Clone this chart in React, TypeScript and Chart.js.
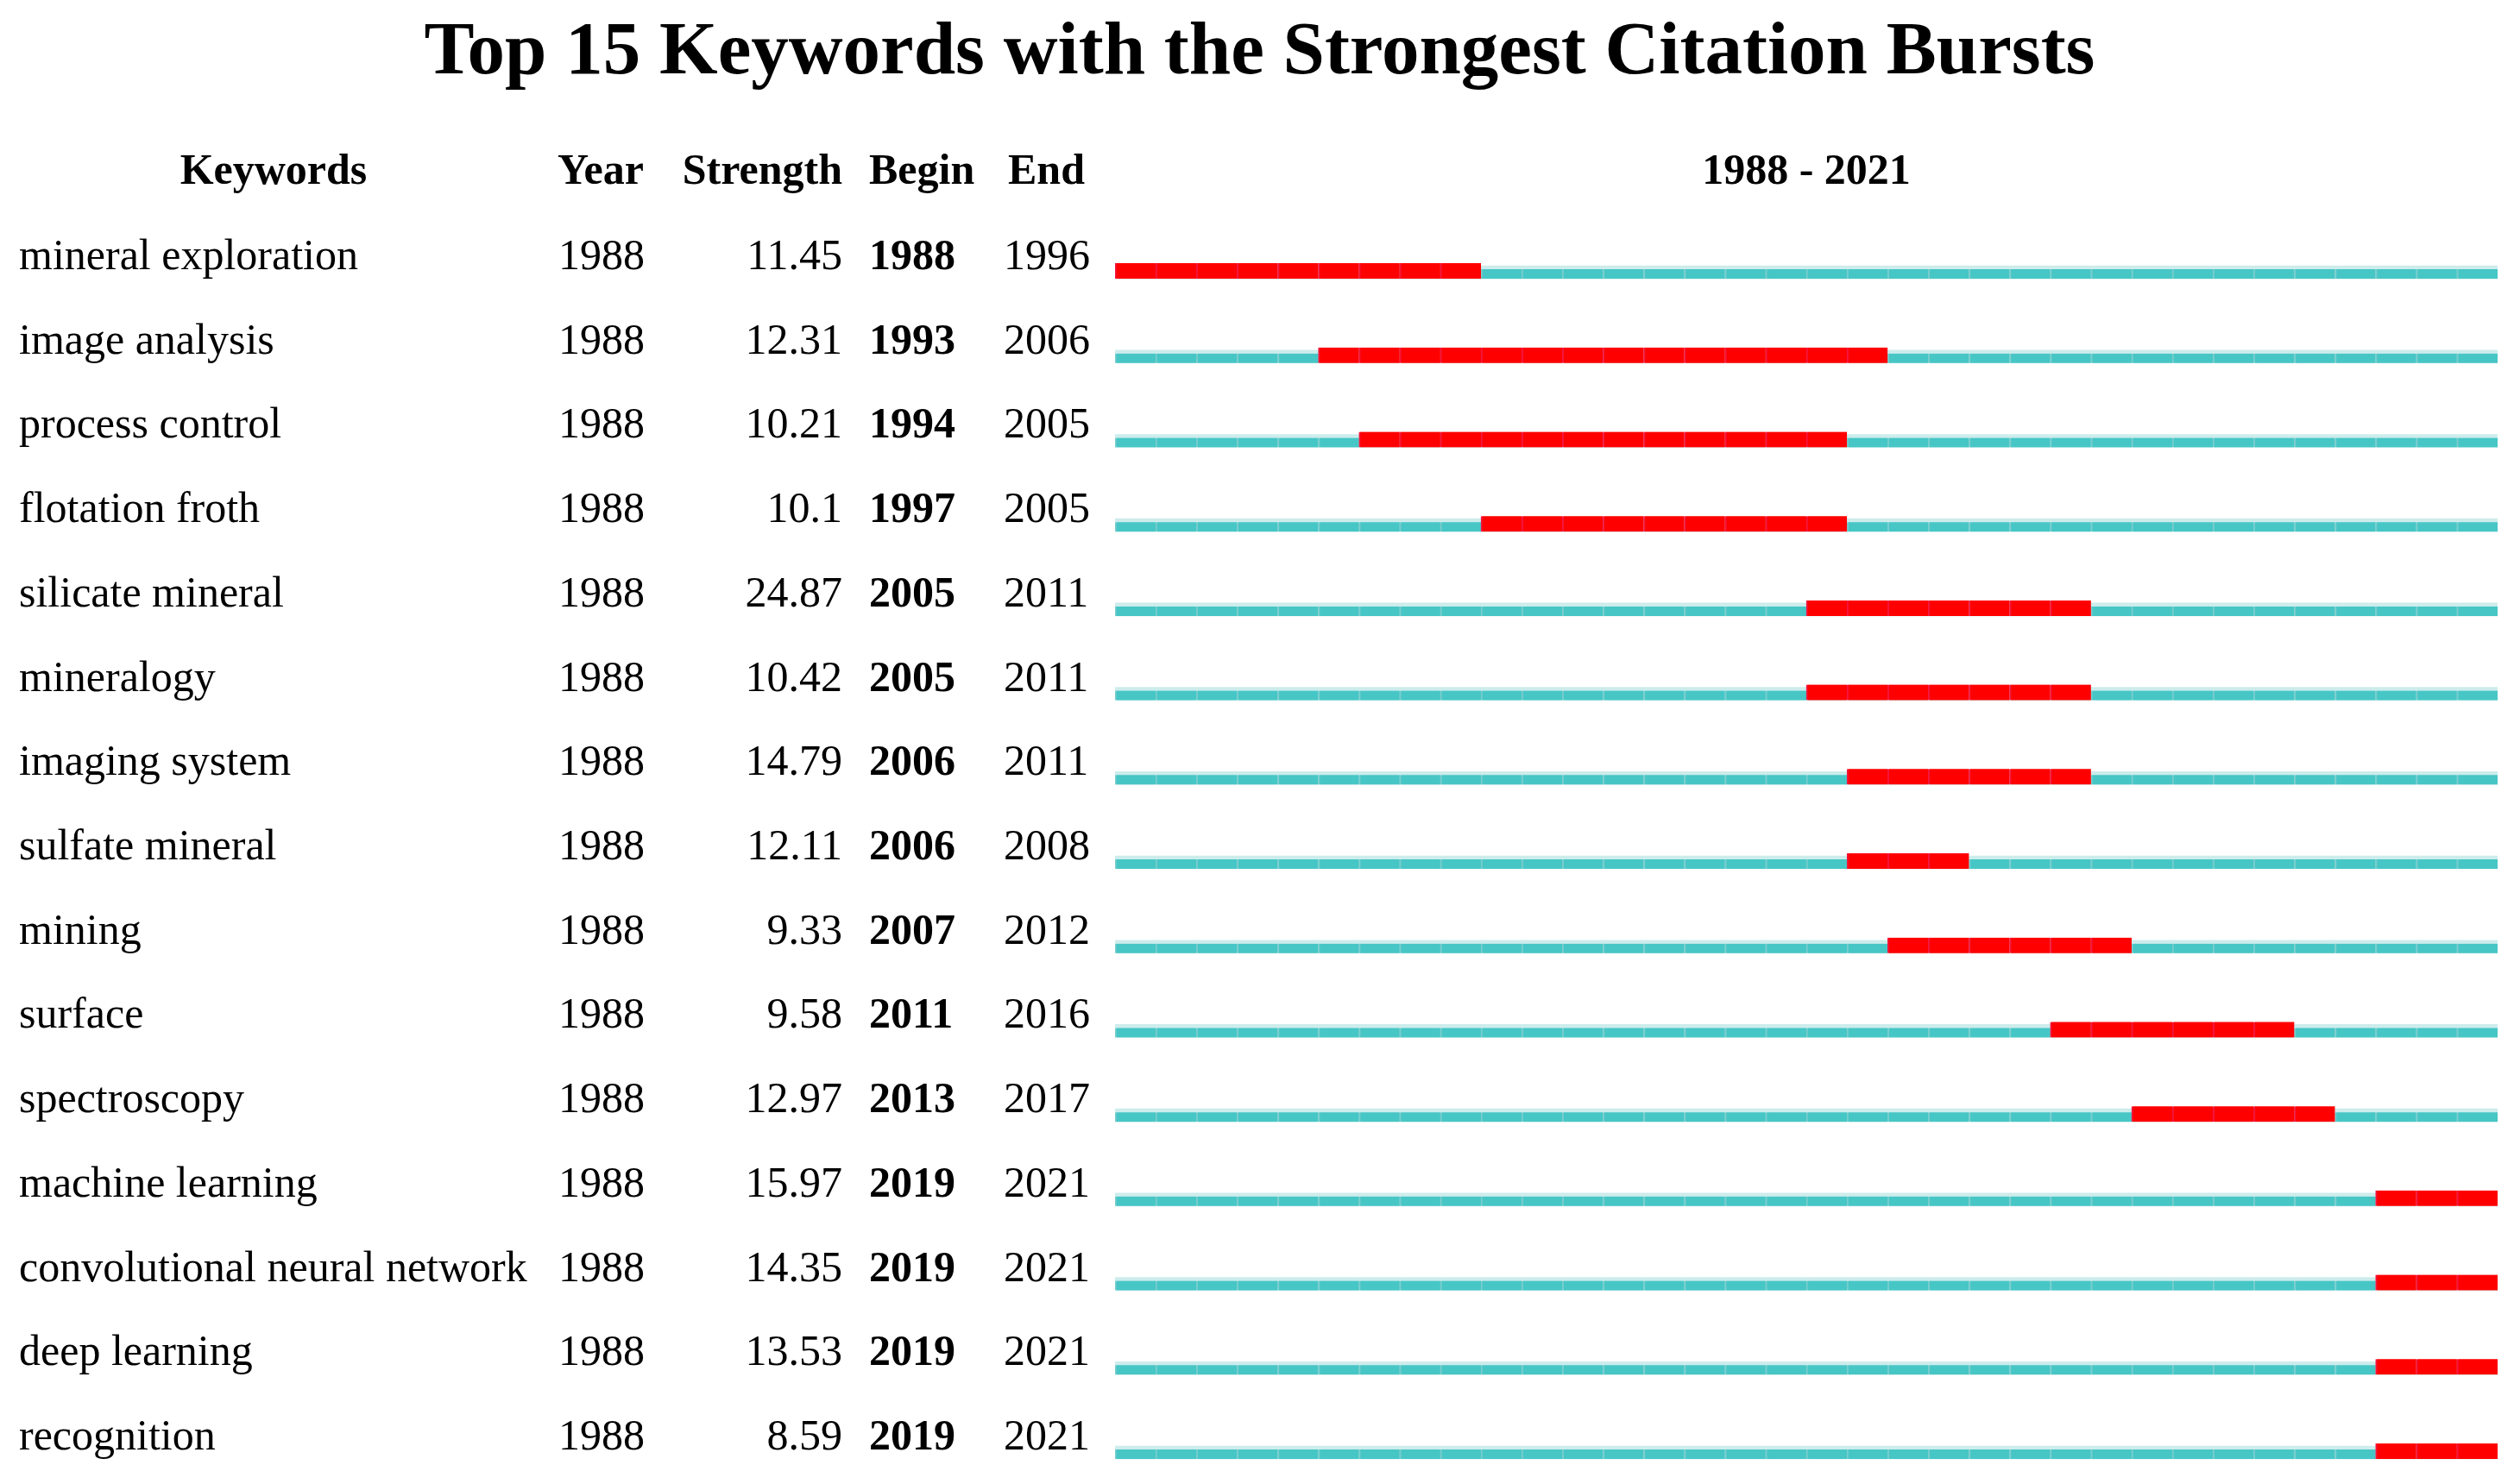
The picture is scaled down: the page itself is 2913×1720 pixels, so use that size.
import React, { useEffect, useRef } from "react";
import { Chart, registerables } from "chart.js";

Chart.register(...registerables);

// ---------- data ----------
const chartTitle = "Top 15 Keywords with the Strongest Citation Bursts";
const columnHeaders = ["Keywords", "Year", "Strength", "Begin", "End"];
const keywords = [
  "mineral exploration",
  "image analysis",
  "process control",
  "flotation froth",
  "silicate mineral",
  "mineralogy",
  "imaging system",
  "sulfate mineral",
  "mining",
  "surface",
  "spectroscopy",
  "machine learning",
  "convolutional neural network",
  "deep learning",
  "recognition",
];
const firstYears = [1988, 1988, 1988, 1988, 1988, 1988, 1988, 1988, 1988, 1988, 1988, 1988, 1988, 1988, 1988];
const strengths = [11.45, 12.31, 10.21, 10.1, 24.87, 10.42, 14.79, 12.11, 9.33, 9.58, 12.97, 15.97, 14.35, 13.53, 8.59];
const burstBegins = [1988, 1993, 1994, 1997, 2005, 2005, 2006, 2006, 2007, 2011, 2013, 2019, 2019, 2019, 2019];
const burstEnds = [1996, 2006, 2005, 2005, 2011, 2011, 2011, 2008, 2012, 2016, 2017, 2021, 2021, 2021, 2021];
const rangeStart = 1988;
const rangeEnd = 2021;

// ---------- style ----------
const FONT = '"Liberation Serif", "Times New Roman", serif';
const COLORS = {
  burst: "#ff0000",
  burstSeam: "#f2163e",
  base: "#47c6c6",
  baseSeam: "#78cdcd",
  baseEdge: "#cdecec",
  text: "#000000",
};
const ROW_PX = 97.71;
const Y_MIN = -0.5;
const Y_MAX = 14.3;
const COLS = { keyword: 22, keywordHeader: 317, year: 647, strengthRight: 976, begin: 1007, end: 1163, endHeader: 1168 };

const tablePlugin = {
  id: "burstTable",
  afterDatasetsDraw(chart: any) {
    const { ctx, chartArea } = chart;
    const yScale = chart.scales.yR;
    ctx.save();
    ctx.fillStyle = COLORS.text;
    ctx.textBaseline = "alphabetic";
    const headerY = yScale.getPixelForValue(-1) - 3;
    ctx.font = `bold 50px ${FONT}`;
    ctx.textAlign = "center";
    ctx.fillText(columnHeaders[0], COLS.keywordHeader, headerY);
    ctx.textAlign = "left";
    ctx.fillText(columnHeaders[1], COLS.year - 1, headerY);
    ctx.textAlign = "right";
    ctx.fillText(columnHeaders[2], COLS.strengthRight, headerY);
    ctx.textAlign = "left";
    ctx.fillText(columnHeaders[3], COLS.begin, headerY);
    ctx.fillText(columnHeaders[4], COLS.endHeader, headerY);
    ctx.textAlign = "center";
    ctx.fillText(`${rangeStart} - ${rangeEnd}`, (chartArea.left + chartArea.right) / 2, headerY);

    keywords.forEach((kw, i) => {
      const y = yScale.getPixelForValue(i) - 2;
      ctx.font = `50px ${FONT}`;
      ctx.textAlign = "left";
      ctx.fillText(kw, COLS.keyword, y);
      ctx.fillText(String(firstYears[i]), COLS.year, y);
      ctx.textAlign = "right";
      ctx.fillText(String(strengths[i]), COLS.strengthRight, y);
      ctx.textAlign = "left";
      ctx.font = `bold 50px ${FONT}`;
      ctx.fillText(String(burstBegins[i]), COLS.begin, y);
      ctx.font = `50px ${FONT}`;
      ctx.fillText(String(burstEnds[i]), COLS.end, y);
    });
    ctx.restore();
  },
};

const hiddenAxis = {
  grid: { display: false },
  border: { display: false },
  ticks: { display: false },
};

export default function App() {
  const ref = useRef<HTMLCanvasElement>(null);

  useEffect(() => {
    const canvas = ref.current;
    if (!canvas) return;

    const years: number[] = [];
    for (let y = rangeStart; y <= rangeEnd; y++) years.push(y);

    const burstCells: any[] = [];
    const baseCells: any[] = [];
    const edgeBars: any[] = [];
    keywords.forEach((_, row) => {
      years.forEach((yr) => {
        const cell = { x: [yr, yr + 1], y: row };
        if (yr >= burstBegins[row] && yr <= burstEnds[row]) burstCells.push(cell);
        else baseCells.push(cell);
      });
      edgeBars.push({ x: [rangeStart, rangeEnd + 1], y: row });
    });

    const shiftEdge = 1.5 / ROW_PX;
    const shiftBase = 3.5 / ROW_PX;

    const chart = new Chart(canvas, {
      type: "bar",
      data: {
        datasets: [
          {
            label: "burst",
            data: burstCells,
            yAxisID: "yR",
            backgroundColor: COLORS.burst,
            borderColor: COLORS.burstSeam,
            borderWidth: { left: 2, top: 0, right: 0, bottom: 0 },
            borderSkipped: false,
            barThickness: 18,
            grouped: false,
          } as any,
          {
            label: "base",
            data: baseCells,
            yAxisID: "yT",
            backgroundColor: COLORS.base,
            borderColor: COLORS.baseSeam,
            borderWidth: { left: 2, top: 0, right: 0, bottom: 0 },
            borderSkipped: false,
            barThickness: 11,
            grouped: false,
          } as any,
          {
            label: "edge",
            data: edgeBars,
            yAxisID: "yB",
            backgroundColor: COLORS.baseEdge,
            borderWidth: 0,
            barThickness: 15,
            grouped: false,
          } as any,
        ],
      },
      options: {
        indexAxis: "y",
        animation: false,
        responsive: false,
        devicePixelRatio: 1,
        events: [],
        layout: { padding: { left: 6, right: 0, top: 0, bottom: 8.7 } },
        plugins: {
          legend: { display: false },
          tooltip: { enabled: false },
          title: {
            display: true,
            text: chartTitle,
            color: COLORS.text,
            font: { family: FONT, size: 87, weight: "bold", lineHeight: 1 },
            padding: { top: 19, bottom: 159.2 },
          },
        },
        scales: {
          x: { type: "linear", min: rangeStart, max: rangeEnd + 1, display: false, offset: false },
          yR: {
            type: "linear",
            position: "left",
            reverse: true,
            offset: false,
            min: Y_MIN,
            max: Y_MAX,
            ...hiddenAxis,
            afterFit: (s: any) => {
              s.width = 1286;
            },
          },
          yB: {
            type: "linear",
            position: "right",
            reverse: true,
            offset: false,
            min: Y_MIN - shiftEdge,
            max: Y_MAX - shiftEdge,
            ...hiddenAxis,
            afterFit: (s: any) => {
              s.width = 19;
            },
          },
          yT: {
            type: "linear",
            reverse: true,
            offset: false,
            min: Y_MIN - shiftBase,
            max: Y_MAX - shiftBase,
            display: false,
          },
        } as any,
      },
      plugins: [tablePlugin],
    });

    return () => chart.destroy();
  }, []);

  return (
    <div style={{ position: "fixed", left: 0, top: 0, width: 2913, height: 1720, background: "#ffffff" }}>
      <canvas ref={ref} width={2913} height={1720} style={{ display: "block", width: 2913, height: 1720 }} />
    </div>
  );
}
